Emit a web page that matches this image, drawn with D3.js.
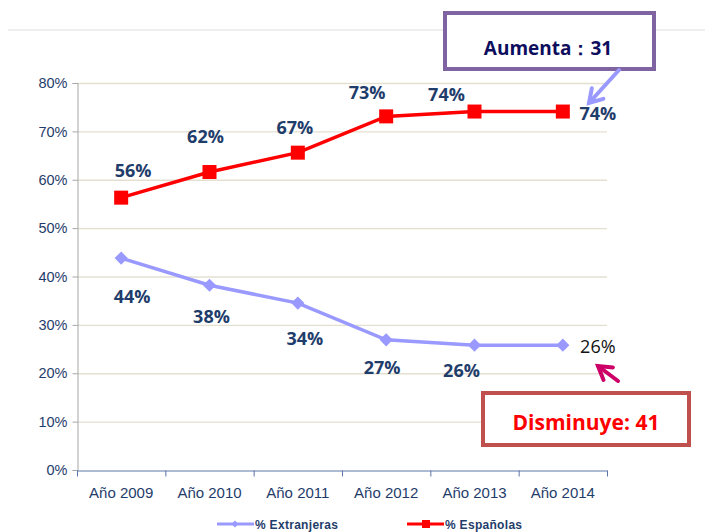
<!DOCTYPE html>
<html>
<head>
<meta charset="utf-8">
<script src="https://cdn.jsdelivr.net/npm/d3@7"></script>
<style>
  body { margin: 0; background: #fff; }
</style>
</head>
<body>
<div id="container"></div>
<script>
// data
const years = ["Año 2009", "Año 2010", "Año 2011", "Año 2012", "Año 2013", "Año 2014"]
const espanolas = [56.3, 61.6, 65.6, 73.1, 74.1, 74.1]
const extranjeras = [43.8, 38.2, 34.5, 26.9, 25.8, 25.8]
const espLabels = ["56%", "62%", "67%", "73%", "74%", "74%"]
const extLabels = ["44%", "38%", "34%", "27%", "26%", "26%"]
const yTicks = [0, 10, 20, 30, 40, 50, 60, 70, 80]

main()

function main() {
    const width = 705
    const height = 532
    const marginLeft = 77
    const marginRight = 98
    const marginTop = 83
    const marginBottom = 62

    const navy = "#1F3D6B"
    const dataFont = "'Open Sans', Lato, sans-serif"
    const axisFont = "'Liberation Sans', Arial, sans-serif"

    const x = d3.scaleBand()
        .domain(years)
        .range([marginLeft, width - marginRight])

    const y = d3.scaleLinear()
        .domain([0, 80])
        .range([height - marginBottom, marginTop])

    const svg = d3.create("svg")
        .attr("width", width)
        .attr("height", height)

    // thin line at the top of the slide
    svg.append("line")
        .attr("x1", 8).attr("x2", width)
        .attr("y1", 30).attr("y2", 30)
        .attr("stroke", "#dddddd")
        .attr("stroke-width", 1)

    // gridlines
    svg.append("g")
        .selectAll("line")
        .data(yTicks.filter(d => d > 0))
        .enter()
        .append("line")
        .attr("x1", marginLeft)
        .attr("x2", width - marginRight)
        .attr("y1", d => y(d) + 0.5)
        .attr("y2", d => y(d) + 0.5)
        .attr("stroke", "#E3E0D0")
        .attr("stroke-width", 1.3)

    // y axis
    const yAxis = svg.append("g")
        .attr("transform", `translate(${marginLeft + 0.5},0)`)
        .call(d3.axisLeft(y).tickValues(yTicks).tickFormat(d => d + "%").tickSizeOuter(0).tickSize(5))
    yAxis.select(".domain").attr("stroke", "#A6A6A6")
    yAxis.selectAll(".tick line").attr("stroke", "#A6A6A6")
    yAxis.selectAll("text")
        .attr("fill", navy)
        .style("font-family", axisFont)
        .style("font-size", "14.5px")
        .attr("x", -10)

    // x axis
    const xAxis = svg.append("g")
        .attr("transform", `translate(0,${height - marginBottom + 0.5})`)
        .call(d3.axisBottom(x).tickSize(0).tickSizeOuter(0))
    xAxis.select(".domain").attr("stroke", "#5A77A8").attr("stroke-width", 1.2)
    xAxis.selectAll("text")
        .attr("fill", navy)
        .attr("dy", "1.65em")
        .style("font-family", axisFont)
        .style("font-size", "15px")
    // tick marks between categories
    const bounds = years.map(d => x(d)).concat([width - marginRight])
    xAxis.selectAll(".sep")
        .data(bounds)
        .enter()
        .append("line")
        .attr("x1", d => d + 0.5).attr("x2", d => d + 0.5)
        .attr("y1", 0).attr("y2", 6)
        .attr("stroke", "#5A77A8")

    const cx = d => x(d) + x.bandwidth() / 2

    const line = d3.line()
        .x(d => cx(d.year))
        .y(d => y(d.value))

    const extData = years.map((d, i) => ({year: d, value: extranjeras[i]}))
    const espData = years.map((d, i) => ({year: d, value: espanolas[i]}))

    // extranjeras line + diamonds
    svg.append("path")
        .datum(extData)
        .attr("fill", "none")
        .attr("stroke", "#9999FF")
        .attr("stroke-width", 3.5)
        .attr("d", line)

    svg.append("g")
        .selectAll("path")
        .data(extData)
        .enter()
        .append("path")
        .attr("transform", d => `translate(${cx(d.year)},${y(d.value)})`)
        .attr("d", d3.symbol(d3.symbolDiamond2, 110))
        .attr("fill", "#9999FF")

    // españolas line + squares
    svg.append("path")
        .datum(espData)
        .attr("fill", "none")
        .attr("stroke", "#FF0000")
        .attr("stroke-width", 3.5)
        .attr("d", line)

    svg.append("g")
        .selectAll("rect")
        .data(espData)
        .enter()
        .append("rect")
        .attr("x", d => cx(d.year) - 7)
        .attr("y", d => y(d.value) - 7)
        .attr("width", 14)
        .attr("height", 14)
        .attr("fill", "#FF0000")

    // data labels: españolas above the points
    const espOffsets = [[12, -21], [-4, -29], [-3, -19], [-19, -17], [-28, -11], [35, 8]]
    svg.append("g")
        .selectAll("text")
        .data(espData)
        .enter()
        .append("text")
        .attr("x", (d, i) => cx(d.year) + espOffsets[i][0])
        .attr("y", (d, i) => y(d.value) + espOffsets[i][1])
        .attr("text-anchor", "middle")
        .attr("fill", navy)
        .style("font-family", dataFont)
        .style("font-weight", "bold")
        .style("font-size", "18px")
        .text((d, i) => espLabels[i])

    // data labels: extranjeras below the points
    const extOffsets = [[11, 45], [2, 38], [7, 42], [-4, 34], [-13, 32], [35, 8]]
    svg.append("g")
        .selectAll("text")
        .data(extData)
        .enter()
        .append("text")
        .attr("x", (d, i) => cx(d.year) + extOffsets[i][0])
        .attr("y", (d, i) => y(d.value) + extOffsets[i][1])
        .attr("text-anchor", "middle")
        .attr("fill", (d, i) => i === 5 ? "#111111" : navy)
        .style("font-family", dataFont)
        .style("font-weight", (d, i) => i === 5 ? "normal" : "bold")
        .style("font-size", "18px")
        .text((d, i) => extLabels[i])

    // arrow helper
    function arrow(x1, y1, x2, y2, color, w) {
        const ang = Math.atan2(y2 - y1, x2 - x1)
        const len = 15
        const spread = 0.55
        const g = svg.append("g")
            .attr("stroke", color)
            .attr("stroke-width", w)
            .attr("stroke-linecap", "round")
            .attr("fill", "none")
        g.append("line").attr("x1", x1).attr("y1", y1).attr("x2", x2).attr("y2", y2)
        g.append("path").attr("d",
            `M${x2 - len * Math.cos(ang - spread)},${y2 - len * Math.sin(ang - spread)}` +
            `L${x2},${y2}` +
            `L${x2 - len * Math.cos(ang + spread)},${y2 - len * Math.sin(ang + spread)}`)
    }

    // Aumenta box
    svg.append("rect")
        .attr("x", 445).attr("y", 13)
        .attr("width", 209).attr("height", 56)
        .attr("fill", "#fff")
        .attr("stroke", "#8064A2")
        .attr("stroke-width", 4)
    svg.append("text")
        .attr("x", 548).attr("y", 55)
        .attr("text-anchor", "middle")
        .attr("fill", "#0D0D5E")
        .style("font-family", dataFont)
        .style("font-weight", "bold")
        .style("font-size", "19px")
        .text("Aumenta：31")
    arrow(619, 70, 589, 103, "#9999FF", 4)

    // Disminuye box
    arrow(618, 381, 598, 366, "#CC0066", 4)
    svg.append("rect")
        .attr("x", 483).attr("y", 393)
        .attr("width", 206).attr("height", 52)
        .attr("fill", "#fff")
        .attr("stroke", "#C0504D")
        .attr("stroke-width", 4)
    svg.append("text")
        .attr("x", 586).attr("y", 430)
        .attr("text-anchor", "middle")
        .attr("fill", "#FF0000")
        .style("font-family", dataFont)
        .style("font-weight", "bold")
        .style("font-size", "21px")
        .text("Disminuye: 41")

    // legend
    const legend = [
        {name: "% Extranjeras", color: "#9999FF", x: 217, marker: "diamond"},
        {name: "% Españolas", color: "#FF0000", x: 407, marker: "square"}
    ]
    const lg = svg.append("g").attr("transform", "translate(0,524)")
    legend.forEach(l => {
        lg.append("line")
            .attr("x1", l.x).attr("x2", l.x + 37)
            .attr("y1", 0).attr("y2", 0)
            .attr("stroke", l.color)
            .attr("stroke-width", 3)
        if (l.marker === "square") {
            lg.append("rect").attr("x", l.x + 15).attr("y", -4).attr("width", 8).attr("height", 8).attr("fill", l.color)
        } else {
            lg.append("path").attr("transform", `translate(${l.x + 18},0)`)
                .attr("d", d3.symbol(d3.symbolDiamond2, 30)).attr("fill", l.color)
        }
        lg.append("text")
            .attr("x", l.x + 38).attr("y", 4.5)
            .attr("fill", navy)
            .style("font-family", axisFont)
            .style("font-weight", "bold")
            .style("font-size", "12px")
            .style("letter-spacing", "0.3px")
            .text(l.name)
    })

    container.append(svg.node())
}
</script>
</body>
</html>
